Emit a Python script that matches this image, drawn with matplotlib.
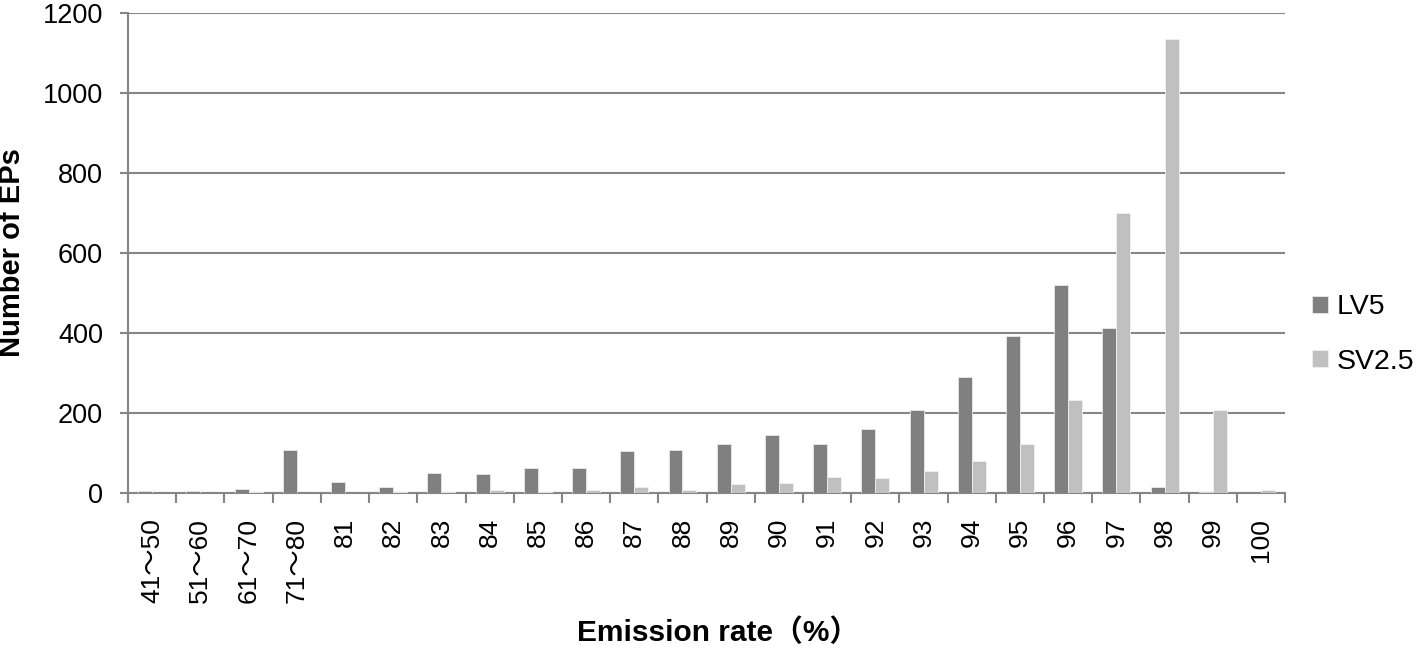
import matplotlib.pyplot as plt
import numpy as np

# categorias y valores
categories = ["41～50", "51～60", "61～70", "71～80", "81", "82", "83", "84", "85",
              "86", "87", "88", "89", "90", "91", "92", "93", "94", "95", "96",
              "97", "98", "99", "100"]
lv5 = [5, 5, 10, 107, 27, 15, 50, 47, 62, 62, 104, 107, 122, 145, 122, 160,
       207, 290, 393, 520, 413, 15, 2, 0]
sv25 = [0, 0, 3, 1, 1, 2, 2, 7, 2, 8, 15, 7, 22, 25, 40, 37, 55, 80, 122, 232,
        700, 1135, 207, 7]

plt.rcParams['font.family'] = ['Liberation Sans', 'Noto Sans CJK JP', 'DejaVu Sans']

fig = plt.figure(figsize=(14.18, 6.48), dpi=100)
ax = fig.add_axes([0.0903, 0.2392, 0.8160, 0.7408])

x = np.arange(len(categories))
w = 0.29
grid_c = '#868686'

ax.bar(x - w / 2, lv5, w, color='#808080', edgecolor='#e8e8e8', linewidth=0.6, label='LV5', zorder=3)
ax.bar(x + w / 2, sv25, w, color='#c0c0c0', edgecolor='#f0f0f0', linewidth=0.6, label='SV2.5', zorder=3)

ax.set_xlim(-0.5, len(categories) - 0.5)
ax.set_ylim(0, 1200)
ax.set_yticks(np.arange(0, 1201, 200))
ax.yaxis.grid(True, color=grid_c, linewidth=1.5, zorder=0)

# etiquetas en el centro, marcas en los limites
ax.set_xticks(x)
ax.set_xticklabels(categories, rotation=90, fontsize=19)
ax.tick_params(axis='x', which='major', length=0, pad=18)
ax.set_xticks(np.arange(-0.5, len(categories)), minor=True)
ax.tick_params(axis='x', which='minor', length=7, width=1.5, color=grid_c)
ax.tick_params(axis='y', labelsize=19.5, length=6, width=1.5, color=grid_c, pad=12)

for s in ['top', 'right']:
    ax.spines[s].set_visible(False)
for s in ['left', 'bottom']:
    ax.spines[s].set_color(grid_c)
    ax.spines[s].set_linewidth(1.5)

ax.set_ylabel('Number of EPs', fontsize=21, fontweight='bold', va='center')
ax.yaxis.set_label_coords(-0.1, 0.5)
ax.set_xlabel('Emission rate（%）', fontsize=21.5, fontweight='bold', va='center')
ax.xaxis.set_label_coords(0.51, -0.29)

ax.legend(loc='center left', bbox_to_anchor=(1.0, 0.33), frameon=False, fontsize=20.5,
          handlelength=0.55, handleheight=0.55, handletextpad=0.3, labelspacing=1.0,
          borderaxespad=0.55)

fig.savefig('out.png', dpi=100)
